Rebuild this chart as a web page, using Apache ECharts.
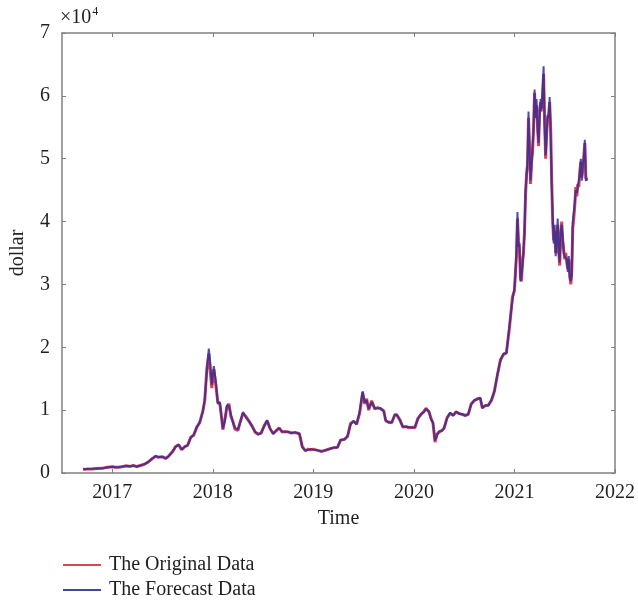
<!DOCTYPE html>
<html>
<head>
<meta charset="utf-8">
<script src="https://cdn.jsdelivr.net/npm/echarts@6/dist/echarts.min.js"></script>
<style>html,body{margin:0;padding:0;background:#fff}#c{width:638px;height:601px}</style>
</head>
<body>
<div id="c"></div>
<script>
const years = [
2016.71,2016.75,2016.80,2016.85,2016.90,2016.95,2017.00,2017.03,2017.06,2017.10,
2017.14,2017.18,2017.21,2017.24,2017.28,2017.32,2017.36,2017.40,2017.43,2017.46,
2017.50,2017.53,2017.56,2017.60,2017.63,2017.66,2017.69,2017.72,2017.75,2017.78,
2017.81,2017.84,2017.87,2017.90,2017.92,2017.94,2017.96,2017.975,2017.99,2018.01,
2018.03,2018.05,2018.07,2018.09,2018.10,2018.12,2018.14,2018.16,2018.18,2018.20,
2018.22,2018.25,2018.27,2018.30,2018.33,2018.36,2018.39,2018.42,2018.45,2018.48,
2018.51,2018.54,2018.57,2018.60,2018.63,2018.66,2018.69,2018.72,2018.75,2018.78,
2018.82,2018.86,2018.87,2018.89,2018.92,2018.95,2018.97,2019.00,2019.04,2019.08,
2019.12,2019.16,2019.20,2019.24,2019.27,2019.31,2019.34,2019.37,2019.40,2019.43,
2019.46,2019.49,2019.51,2019.53,2019.55,2019.58,2019.61,2019.64,2019.67,2019.70,
2019.72,2019.75,2019.78,2019.81,2019.83,2019.86,2019.89,2019.92,2019.95,2019.98,
2020.01,2020.04,2020.07,2020.10,2020.12,2020.15,2020.17,2020.19,2020.21,2020.23,
2020.25,2020.28,2020.30,2020.33,2020.36,2020.39,2020.42,2020.45,2020.48,2020.51,
2020.54,2020.57,2020.60,2020.63,2020.66,2020.68,2020.71,2020.74,2020.77,2020.80,
2020.83,2020.86,2020.89,2020.92,2020.95,2020.98,
2021.00,2021.01,2021.02,2021.03,2021.04,2021.05,2021.06,2021.07,2021.08,2021.09,
2021.10,2021.11,2021.12,2021.13,2021.14,2021.15,2021.16,2021.17,2021.18,2021.19,
2021.20,2021.21,2021.22,2021.23,2021.24,2021.25,2021.26,2021.27,2021.28,2021.29,
2021.30,2021.31,2021.32,2021.33,2021.34,2021.35,2021.36,2021.37,2021.38,2021.39,
2021.40,2021.41,2021.42,2021.43,2021.44,2021.45,2021.46,2021.47,2021.48,2021.49,
2021.50,2021.51,2021.52,2021.53,2021.54,2021.55,2021.56,2021.57,2021.58,2021.59,
2021.60,2021.61,2021.62,2021.63,2021.64,2021.65,2021.66,2021.67,2021.68,2021.69,
2021.70,2021.71,2021.72
];
const originalData = [
610,620,650,720,740,900,980,900,920,1000,
1150,1050,1200,1000,1200,1400,1800,2300,2700,2500,
2600,2300,2700,3400,4200,4500,3700,4200,4400,5700,
6000,7300,8000,9800,11500,16500,19000,16000,13500,16500,
14000,11200,11000,8500,6900,8500,10500,11000,9000,8200,
7000,6800,8000,9500,9000,8200,7500,6500,6200,6300,
7500,8300,7000,6300,6700,7200,6500,6600,6500,6400,
6400,6300,5600,4200,3500,3800,3700,3800,3600,3450,
3600,3850,4000,4100,5200,5400,5800,7900,8200,7800,
9500,12800,11000,11800,10000,11500,10200,10400,10200,9900,
8300,8100,8000,9300,9200,8500,7300,7400,7200,7300,
7200,8700,9300,9800,10300,9700,8700,7900,4900,6200,
6500,6800,7100,8800,9500,9200,9700,9500,9300,9200,
9300,11000,11500,11800,11900,10400,10700,10800,11500,13000,
15500,18000,18800,19200,23000,28000,
29000,32000,34500,40500,37000,35500,31000,30500,33500,35000,
38500,44000,47500,49000,56500,52000,46000,49500,51000,55000,
60500,57000,58500,55000,52000,57500,59000,58000,60000,63500,
56000,50000,54000,56500,57000,59000,55000,47000,40000,37000,
38500,35000,36500,39500,35500,33000,37500,40000,37000,35500,
34000,35000,33500,32500,34000,31500,30000,32000,39000,40500,
42500,45500,44000,46000,45500,48000,49500,47000,48500,50500,
52500,47000,46500
];
const forecastData = [
600,630,660,710,760,880,990,920,910,1020,
1130,1080,1180,1030,1190,1420,1750,2350,2650,2550,
2580,2350,2650,3450,4150,4550,3750,4150,4450,5600,
6100,7200,8100,9700,11800,16000,19800,17500,14000,17000,
14500,11000,11300,8300,7100,8300,10800,10700,9300,8000,
7200,6900,7900,9700,8800,8300,7400,6600,6100,6400,
7400,8400,7100,6200,6800,7100,6600,6500,6600,6300,
6500,6200,5700,4100,3600,3700,3800,3700,3650,3400,
3650,3800,4050,4050,5300,5300,5900,7700,8300,7700,
9700,13000,11200,11600,10200,11300,10300,10300,10300,9800,
8400,8000,8100,9200,9300,8400,7400,7300,7300,7200,
7300,8600,9400,9700,10200,9800,8600,8000,5200,6000,
6600,6700,7200,8700,9600,9100,9800,9400,9400,9100,
9400,10900,11600,11700,12000,10300,10800,10700,11600,12900,
15700,17800,19000,19000,23500,27500,
29500,31500,35500,41500,36000,36500,30500,31500,33000,35500,
38000,45000,47000,50000,57500,51000,46500,49000,52000,54500,
61000,56500,59500,54500,52500,56500,59500,57500,61000,64700,
55000,50500,53500,57000,56500,59800,54000,46000,41000,36500,
39500,34500,37000,40500,35000,33500,38500,39500,37500,35000,
34500,34500,34000,32000,34500,31000,30500,31500,40000,40000,
43000,45000,44500,45500,46500,47500,50000,46500,49000,50000,
53000,46500,47000
];
const xTicks = [2017, 2018, 2019, 2020, 2021, 2022];

const FONT = '"Liberation Serif", "DejaVu Serif", serif';
const TXT = '#231f20';
const AX = '#808080';

const origPts = years.map((y, i) => [y, originalData[i]]);
const fcPts = years.map((y, i) => [y, forecastData[i]]);

const chart = echarts.init(document.getElementById('c'), null, {renderer: 'canvas'});
const tickCommon = {show: true, inside: true, length: 4, lineStyle: {color: AX, width: 1}};
const legendText = {color: TXT, fontFamily: FONT, fontSize: 20, padding: [0, 0, 0, 3]};
chart.setOption({
  animation: false,
  backgroundColor: '#fff',
  grid: {left: 58, right: 20, top: 33, bottom: 128, containLabel: false},
  xAxis: [{
    type: 'value', min: 2016.5, max: 2022,
    position: 'bottom',
    axisLine: {show: true, onZero: false, lineStyle: {color: AX, width: 1.5}},
    axisTick: Object.assign({}, tickCommon, {customValues: xTicks}),
    axisLabel: {customValues: xTicks, color: TXT, fontFamily: FONT, fontSize: 20, margin: 10,
      formatter: v => String(Math.round(v))},
    splitLine: {show: false},
    name: 'Time', nameLocation: 'middle', nameGap: 36,
    nameTextStyle: {color: TXT, fontFamily: FONT, fontSize: 20}
  }, {
    type: 'value', min: 2016.5, max: 2022,
    position: 'top',
    axisLine: {show: true, onZero: false, lineStyle: {color: AX, width: 1.5}},
    axisTick: Object.assign({}, tickCommon, {customValues: xTicks}),
    axisLabel: {show: false},
    splitLine: {show: false}
  }],
  yAxis: [{
    type: 'value', min: 0, max: 70000, interval: 10000,
    position: 'left',
    axisLine: {show: true, onZero: false, lineStyle: {color: AX, width: 1.5}},
    axisTick: tickCommon,
    axisLabel: {color: TXT, fontFamily: FONT, fontSize: 20, margin: 12,
      formatter: v => String(Math.round(v / 10000))},
    splitLine: {show: false},
    name: 'dollar', nameLocation: 'middle', nameGap: 34,
    nameTextStyle: {color: TXT, fontFamily: FONT, fontSize: 20}
  }, {
    type: 'value', min: 0, max: 70000, interval: 10000,
    position: 'right',
    axisLine: {show: true, onZero: false, lineStyle: {color: AX, width: 1.5}},
    axisTick: tickCommon,
    axisLabel: {show: false},
    splitLine: {show: false}
  }],
  legend: [{
    left: 58, top: 550,
    icon: 'rect', itemWidth: 38, itemHeight: 2,
    textStyle: legendText,
    data: ['The Original Data']
  }, {
    left: 58, top: 575,
    icon: 'rect', itemWidth: 38, itemHeight: 2,
    textStyle: legendText,
    data: ['The Forecast Data']
  }],
  graphic: [{
    type: 'text', left: 60, top: 6,
    style: {
      text: '{a|×10}{b|4}',
      rich: {
        a: {fontFamily: FONT, fontSize: 20, fill: TXT, verticalAlign: 'bottom'},
        b: {fontFamily: FONT, fontSize: 12, fill: TXT, verticalAlign: 'top', padding: [0, 0, 10, 1]}
      }
    }
  }],
  series: [{
    name: 'The Original Data', type: 'line', xAxisIndex: 0, yAxisIndex: 0,
    data: origPts, showSymbol: false, symbol: 'none',
    color: '#e04450',
    lineStyle: {color: '#e5404e', width: 3}
  }, {
    name: 'The Forecast Data', type: 'line', xAxisIndex: 0, yAxisIndex: 0,
    data: fcPts, showSymbol: false, symbol: 'none',
    color: '#3a48a0',
    lineStyle: {color: '#2f2f9a', width: 2, opacity: 0.85}
  }]
});
</script>
</body>
</html>
